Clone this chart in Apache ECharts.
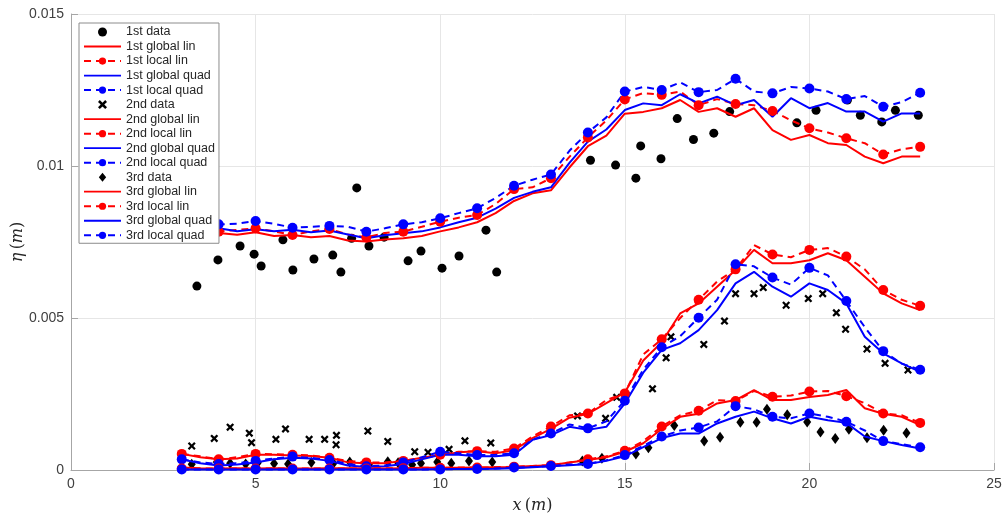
<!DOCTYPE html>
<html>
<head>
<meta charset="utf-8">
<script src="https://cdn.jsdelivr.net/npm/echarts@6/dist/echarts.min.js"></script>
<style>html,body{margin:0;padding:0;background:#fff}#c{width:1006px;height:515px}</style>
</head>
<body>
<div id="c"></div>
<script>
// ---- data (values of eta in millimetres; converted to metres below) ----
const xTicks = [0, 5, 10, 15, 20, 25];
const yTicks = [0, 0.005, 0.01, 0.015];

const legendNames = [
  '1st data','1st global lin','1st local lin','1st global quad','1st local quad',
  '2nd data','2nd global lin','2nd local lin','2nd global quad','2nd local quad',
  '3rd data','3rd global lin','3rd local lin','3rd global quad','3rd local quad'
];

// measured data
const d1x = [3.41,3.98,4.58,4.96,5.15,5.74,6.01,6.58,7.09,7.31,7.6,7.74,8.07,8.48,9.13,9.48,10.05,10.51,11.24,11.53,
             14.07,14.75,15.3,15.43,15.98,16.42,16.86,17.41,17.84,19.66,20.18,21.03,21.38,21.96,22.33,22.95];
const d1y = [6.05,6.91,7.37,7.1,6.71,7.57,6.58,6.94,7.07,6.51,7.62,9.28,7.37,7.66,6.88,7.2,6.64,7.04,7.89,6.51,
             10.19,10.03,9.6,10.66,10.24,11.56,10.87,11.08,11.79,11.42,11.83,12.17,11.67,11.45,11.83,11.67];

const d2x = [3.27,3.88,4.31,4.83,4.89,5.55,5.81,6.45,6.87,7.19,7.18,8.04,8.58,9.31,9.67,10.24,10.67,11.37,
             13.72,14.48,14.78,15.75,16.12,16.25,17.14,17.7,18.0,18.5,18.75,19.37,19.97,20.36,20.73,20.98,21.56,22.05,22.67];
const d2y = [0.79,1.04,1.41,1.21,0.9,1.01,1.35,1.01,1.01,1.14,0.83,1.28,0.94,0.6,0.58,0.68,0.96,0.89,
             1.78,1.7,2.39,2.67,3.69,4.38,4.13,4.9,5.8,5.8,6.0,5.42,5.64,5.8,5.17,4.63,3.98,3.51,3.29];

const d3x = [3.27,3.95,4.31,4.73,5.06,5.5,5.88,6.51,7.11,7.55,8.07,8.58,8.86,9.24,9.48,9.92,10.3,10.78,11.41,
             13.85,14.38,15.3,15.64,16.34,17.15,17.58,18.13,18.57,18.85,19.4,19.94,20.3,20.7,21.07,21.56,22.01,22.63];
const d3y = [0.19,0.26,0.22,0.2,0.24,0.21,0.2,0.25,0.22,0.26,0.17,0.27,0.24,0.17,0.22,0.26,0.22,0.3,0.26,
             0.3,0.39,0.53,0.73,1.46,0.95,1.08,1.57,1.57,2.0,1.82,1.58,1.25,1.04,1.34,1.06,1.31,1.22];

// fitted curves, sampled at xLine
const xLine = [3,3.5,4,4.5,5,5.5,6,6.5,7,7.5,8,8.5,9,9.5,10,10.5,11,11.5,12,12.5,13,13.5,14,14.5,15,15.5,16,16.5,17,17.5,18,18.5,19,19.5,20,20.5,21,21.5,22,22.5,23];

const l1gl = [7.78,7.72,7.80,7.74,7.82,7.70,7.73,7.66,7.70,7.55,7.52,7.58,7.62,7.70,7.85,7.98,8.15,8.45,8.85,9.10,9.20,9.95,10.65,11.00,11.72,11.78,11.90,12.17,11.78,11.90,11.62,11.90,11.18,10.86,11.02,10.75,10.69,10.31,10.09,10.31,10.31];
const l1ll = [7.75,7.85,7.84,7.90,7.95,7.85,7.73,7.85,7.93,7.75,7.65,7.80,7.84,8.00,8.17,8.30,8.39,8.75,9.24,9.30,9.60,10.30,10.94,11.50,12.19,12.40,12.34,12.45,12.00,12.20,12.04,12.00,11.81,11.50,11.24,11.10,10.91,10.75,10.38,10.55,10.63];
const l1gq = [7.95,7.85,7.95,7.85,7.92,7.85,7.90,7.82,7.88,7.75,7.62,7.72,7.79,7.85,7.98,8.15,8.30,8.60,8.95,9.15,9.30,10.10,10.80,11.20,11.84,12.06,12.00,12.36,12.06,12.28,12.00,12.17,11.62,12.23,11.90,12.07,11.79,11.79,11.46,11.73,11.73];
const l1lq = [8.00,8.05,8.08,8.10,8.19,8.10,7.97,8.00,8.03,8.00,7.84,7.95,8.08,8.15,8.28,8.45,8.61,8.95,9.35,9.55,9.72,10.50,11.10,11.60,12.45,12.60,12.50,12.75,12.43,12.50,12.87,12.45,12.39,12.60,12.55,12.45,12.20,12.30,11.95,12.10,12.41];

const l2gl = [0.53,0.42,0.35,0.38,0.50,0.50,0.48,0.46,0.40,0.25,0.22,0.22,0.30,0.40,0.49,0.58,0.62,0.55,0.65,1.05,1.35,1.72,1.85,2.20,2.55,3.60,4.20,5.15,5.48,6.03,6.58,7.24,6.80,6.80,6.90,7.13,6.90,6.36,5.81,5.48,5.26];
const l2ll = [0.53,0.45,0.35,0.42,0.53,0.52,0.50,0.48,0.40,0.30,0.25,0.25,0.30,0.40,0.50,0.60,0.62,0.60,0.71,1.10,1.43,1.80,1.86,2.30,2.52,3.80,4.30,5.00,5.60,6.20,6.60,7.40,7.09,7.00,7.24,7.30,7.02,6.60,5.92,5.60,5.40];
const l2gq = [0.35,0.22,0.15,0.18,0.25,0.35,0.40,0.38,0.30,0.15,0.10,0.12,0.20,0.35,0.50,0.50,0.45,0.45,0.50,0.99,1.15,1.42,1.32,1.42,2.19,3.20,3.95,4.17,4.60,5.26,6.14,6.52,6.03,5.70,6.14,5.92,5.48,4.38,3.84,3.51,3.23];
const l2lq = [0.35,0.25,0.20,0.22,0.30,0.38,0.44,0.40,0.33,0.20,0.12,0.15,0.25,0.42,0.60,0.55,0.49,0.50,0.55,1.00,1.20,1.50,1.37,1.60,2.28,3.30,4.04,4.40,5.01,5.60,6.77,6.70,6.33,6.10,6.65,6.40,5.56,4.70,3.91,3.50,3.30];

const l3gl = [0.08,0.06,0.05,0.06,0.05,0.06,0.05,0.05,0.06,0.06,0.05,0.05,0.06,0.07,0.07,0.07,0.08,0.09,0.10,0.13,0.16,0.25,0.33,0.42,0.60,0.88,1.35,1.75,1.85,2.19,2.30,2.63,2.30,2.30,2.40,2.47,2.63,2.03,1.85,1.75,1.48];
const l3ll = [0.05,0.05,0.05,0.05,0.05,0.05,0.05,0.05,0.05,0.05,0.05,0.06,0.06,0.07,0.07,0.08,0.08,0.09,0.11,0.13,0.16,0.25,0.35,0.45,0.63,0.95,1.43,1.80,1.95,2.30,2.27,2.60,2.41,2.45,2.58,2.60,2.43,2.20,1.86,1.80,1.55];
const l3gq = [0.02,0.02,0.02,0.02,0.02,0.02,0.02,0.02,0.02,0.02,0.02,0.02,0.02,0.02,0.03,0.03,0.03,0.04,0.06,0.09,0.12,0.16,0.20,0.30,0.45,0.75,1.05,1.20,1.20,1.53,1.75,1.92,1.70,1.53,1.75,1.64,1.55,1.10,0.95,0.82,0.71];
const l3lq = [0.02,0.02,0.02,0.02,0.02,0.02,0.02,0.02,0.02,0.02,0.02,0.02,0.02,0.02,0.02,0.03,0.03,0.05,0.08,0.10,0.13,0.18,0.20,0.32,0.49,0.80,1.10,1.30,1.40,1.60,2.10,2.00,1.75,1.70,1.86,1.75,1.59,1.30,0.95,0.85,0.75];

// ---- build series ----
const toM = v => v / 1000;
const pairs = (xs, ys) => xs.map((x, i) => [x, toM(ys[i])]);
const crossPath = 'path://M2,0 L5,3 L8,0 L10,2 L7,5 L10,8 L8,10 L5,7 L2,10 L0,8 L3,5 L0,2 Z';
const RED = '#ff0000', BLUE = '#0000ff';

// legend-only icons (a bar / a diamond inside a 37x9 box)
const barIcon = 'path://M0,0 L0.01,0 L0,0.01 Z M0,3.6 L37,3.6 L37,5.4 L0,5.4 Z M0,9 L0.01,9 L0,8.99 Z';
const diamondIcon = 'path://M18.5,-1 L23,4.5 L18.5,10 L14,4.5 Z M0,4.5 L0.01,4.5 L0,4.51 Z M37,4.5 L36.99,4.5 L37,4.51 Z';

function dataSeries(name, xs, ys, symbol, size) {
  return { name, type: 'scatter', data: pairs(xs, ys), symbol, symbolSize: size,
    itemStyle: { color: '#000', opacity: 1 }, z: 2, silent: true };
}
function solidSeries(name, ys, color) {
  return { name, type: 'line', data: pairs(xLine, ys), symbol: 'none', smooth: false,
    lineStyle: { color, width: 2, type: 'solid' }, itemStyle: { color }, z: 3, silent: true };
}
function dashSeries(name, ys, color) {
  return { name, type: 'line', data: pairs(xLine, ys), symbol: 'circle', showSymbol: true, showAllSymbol: true,
    symbolSize: (v, p) => (p.dataIndex % 2 === 0 ? 10 : 0),
    lineStyle: { color, width: 2, type: [7, 5] }, itemStyle: { color, borderWidth: 0 }, z: 3, silent: true };
}

const series = [
  dataSeries(legendNames[0], d1x, d1y, 'circle', 9),
  solidSeries(legendNames[1], l1gl, RED),
  dashSeries(legendNames[2], l1ll, RED),
  solidSeries(legendNames[3], l1gq, BLUE),
  dashSeries(legendNames[4], l1lq, BLUE),
  dataSeries(legendNames[5], d2x, d2y, crossPath, 8),
  solidSeries(legendNames[6], l2gl, RED),
  dashSeries(legendNames[7], l2ll, RED),
  solidSeries(legendNames[8], l2gq, BLUE),
  dashSeries(legendNames[9], l2lq, BLUE),
  dataSeries(legendNames[10], d3x, d3y, 'diamond', [8, 11]),
  solidSeries(legendNames[11], l3gl, RED),
  dashSeries(legendNames[12], l3ll, RED),
  solidSeries(legendNames[13], l3gq, BLUE),
  dashSeries(legendNames[14], l3lq, BLUE)
];

const legendData = legendNames.map(n => {
  if (/global/.test(n)) return { name: n, icon: barIcon };
  if (n === '3rd data') return { name: n, icon: diamondIcon };
  return { name: n };
});

const axisColor = '#a6a6a6';
const labelColor = '#404040';
const labelFont = '"Liberation Sans", Arial, sans-serif';
const serif = '"DejaVu Serif", "Liberation Serif", serif';

const chart = echarts.init(document.getElementById('c'), null, { renderer: 'canvas' });
chart.setOption({
  animation: false,
  backgroundColor: '#fff',
  grid: { left: 71, right: 12, top: 14, bottom: 45, containLabel: false, outerBoundsMode: 'none' },
  xAxis: {
    type: 'value', min: xTicks[0], max: xTicks[xTicks.length - 1], interval: 5,
    name: '{i|x} {n|(}{i|m}{n|)}', nameLocation: 'middle', nameGap: 28, nameMoveOverlap: false,
    nameTextStyle: { rich: { i: { fontFamily: serif, fontStyle: 'italic', fontSize: 16, color: '#262626' },
                             n: { fontFamily: serif, fontSize: 16, color: '#262626' } } },
    axisLine: { show: true, onZero: false, lineStyle: { color: axisColor, width: 1 } },
    axisTick: { show: true, inside: true, length: 7, lineStyle: { color: axisColor } },
    axisLabel: { color: labelColor, fontSize: 14, fontFamily: labelFont, margin: 7 },
    splitLine: { show: true, lineStyle: { color: '#e6e6e6', width: 1 } }
  },
  yAxis: {
    type: 'value', min: yTicks[0], max: yTicks[yTicks.length - 1], interval: 0.005,
    name: '{i|η} {n|(}{i|m}{n|)}', nameLocation: 'middle', nameGap: 45, nameMoveOverlap: false,
    nameTextStyle: { rich: { i: { fontFamily: serif, fontStyle: 'italic', fontSize: 16, color: '#262626' },
                             n: { fontFamily: serif, fontSize: 16, color: '#262626' } } },
    axisLine: { show: true, onZero: false, lineStyle: { color: axisColor, width: 1 } },
    axisTick: { show: true, inside: true, length: 7, lineStyle: { color: axisColor } },
    axisLabel: { color: labelColor, fontSize: 14, fontFamily: labelFont, margin: 7,
                 formatter: v => String(+v.toFixed(4)) },
    splitLine: { show: true, lineStyle: { color: '#e6e6e6', width: 1 } }
  },
  legend: {
    data: legendData, orient: 'vertical', left: 79, top: 23,
    itemWidth: 37, itemHeight: 9, itemGap: 0.52,
    padding: [2, 4, 1, 4],
    backgroundColor: '#fff', borderColor: '#8c8c8c', borderWidth: 1, borderRadius: 0,
    textStyle: { fontSize: 12.5, fontFamily: labelFont, color: '#262626', lineHeight: 14 },
    selectedMode: false, z: 10
  },
  series
});
</script>
</body>
</html>
